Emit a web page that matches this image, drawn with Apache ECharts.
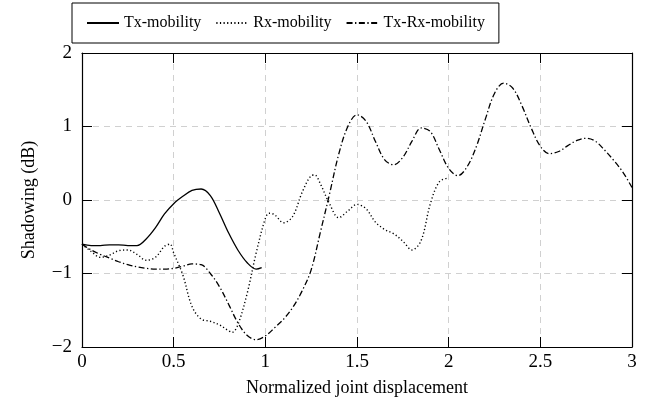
<!DOCTYPE html>
<html><head><meta charset="utf-8">
<script src="https://cdn.jsdelivr.net/npm/echarts@6/dist/echarts.min.js"></script>
<style>html,body{margin:0;padding:0;background:#fff}#c{width:659px;height:403px}</style>
</head><body><div id="c"></div>
<script>
var seriesNames = ['Tx-mobility', 'Rx-mobility', 'Tx-Rx-mobility'];
var xTicks = ['0', '0.5', '1', '1.5', '2', '2.5', '3'];
var yTicks = ['\u22122', '\u22121', '0', '1', '2'];

var txX = [0,0.05,0.1,0.15,0.2,0.25,0.3,0.35,0.4,0.45,0.5,0.55,0.6,0.65,0.7,0.75,0.8,0.85,0.9,0.95,0.98];
var txY = [-0.60,-0.62,-0.62,-0.61,-0.61,-0.62,-0.62,-0.53,-0.38,-0.19,-0.05,0.05,0.13,0.15,0.06,-0.18,-0.45,-0.68,-0.85,-0.94,-0.92];

var rxX = [0,0.05,0.1,0.15,0.2,0.25,0.3,0.35,0.4,0.45,0.48,0.5,0.55,0.6,0.65,0.7,0.75,0.8,0.82,0.85,0.9,0.95,1.0,1.02,1.05,1.1,1.15,1.2,1.25,1.27,1.3,1.35,1.4,1.45,1.5,1.55,1.6,1.65,1.7,1.75,1.8,1.85,1.9,1.95,2.0];
var rxY = [-0.60,-0.70,-0.78,-0.75,-0.69,-0.68,-0.74,-0.82,-0.78,-0.63,-0.60,-0.72,-1.02,-1.45,-1.62,-1.65,-1.70,-1.78,-1.80,-1.70,-1.28,-0.72,-0.25,-0.18,-0.20,-0.31,-0.22,0.10,0.33,0.34,0.22,-0.05,-0.24,-0.15,-0.06,-0.12,-0.30,-0.40,-0.46,-0.56,-0.68,-0.55,-0.05,0.25,0.30];

var trxX = [0,0.05,0.1,0.15,0.2,0.25,0.3,0.35,0.4,0.45,0.5,0.55,0.6,0.65,0.7,0.75,0.8,0.85,0.9,0.95,1.0,1.05,1.1,1.15,1.2,1.25,1.3,1.35,1.4,1.45,1.5,1.55,1.6,1.65,1.7,1.75,1.8,1.85,1.9,1.95,2.0,2.05,2.1,2.15,2.2,2.25,2.3,2.35,2.4,2.45,2.5,2.55,2.6,2.65,2.7,2.75,2.8,2.85,2.9,2.95,3.0];
var trxY = [-0.60,-0.68,-0.74,-0.79,-0.84,-0.88,-0.91,-0.93,-0.94,-0.94,-0.93,-0.90,-0.87,-0.88,-1.00,-1.18,-1.42,-1.67,-1.84,-1.90,-1.85,-1.74,-1.62,-1.46,-1.24,-0.95,-0.44,0.08,0.62,1.00,1.16,1.07,0.80,0.55,0.48,0.58,0.80,0.98,0.93,0.68,0.43,0.33,0.45,0.72,1.10,1.45,1.59,1.52,1.28,0.98,0.73,0.63,0.66,0.74,0.81,0.84,0.80,0.68,0.54,0.38,0.17];

function pairs(xs, ys){ return xs.map(function(x,i){ return [x, ys[i]]; }); }

var font = 'Liberation Serif';
var chart = echarts.init(document.getElementById('c'), null, {renderer:'canvas'});
var lineStyles = [
  {color:'#000', width:1.3, type:'solid'},
  {color:'#000', width:1.4, type:[1.2,2.4]},
  {color:'#000', width:1.3, type:[6,2.5,1.3,2.5]}
];
var data = [pairs(txX, txY), pairs(rxX, rxY), pairs(trxX, trxY)];
var gridLine = {show:true, lineStyle:{color:'#d0d0d0', type:[6,5], width:1}};

chart.setOption({
  animation:false,
  backgroundColor:'#fff',
  legend:{
    left:72, top:3,
    padding:[12,14,12,14],
    borderColor:'#000', borderWidth:1,
    itemWidth:32, itemHeight:14, itemGap:14,
    itemStyle:{opacity:0},
    textStyle:{fontFamily:font, fontSize:16, color:'#000'},
    data:seriesNames
  },
  grid:{left:82, right:27, top:53, bottom:56},
  xAxis:[{
    type:'value', min:0, max:3, interval:0.5,
    name:'Normalized joint displacement', nameLocation:'middle', nameGap:32,
    nameTextStyle:{fontFamily:font, fontSize:18, color:'#000'},
    axisLine:{onZero:false, lineStyle:{color:'#000', width:1.2}},
    axisTick:{inside:true, length:10, lineStyle:{color:'#000'}},
    axisLabel:{fontFamily:font, fontSize:19, color:'#000', margin:6,
      formatter:function(v){ return xTicks[Math.round(v/0.5)]; }},
    splitLine:gridLine
  },{
    type:'value', min:0, max:3, interval:0.5, position:'top',
    axisLine:{show:true, onZero:false, lineStyle:{color:'#000', width:1.2}},
    axisTick:{inside:true, length:10, lineStyle:{color:'#000'}},
    axisLabel:{show:false}, splitLine:{show:false}
  }],
  yAxis:[{
    type:'value', min:-2, max:2, interval:1, position:'left',
    name:'Shadowing (dB)', nameLocation:'middle', nameGap:44, nameRotate:90,
    nameTextStyle:{fontFamily:font, fontSize:18, color:'#000'},
    axisLine:{show:true, onZero:false, lineStyle:{color:'#000', width:1.2}},
    axisTick:{show:true, inside:true, length:10, lineStyle:{color:'#000'}},
    axisLabel:{fontFamily:font, fontSize:19, color:'#000', margin:10,
      formatter:function(v){ return yTicks[Math.round(v+2)]; }},
    splitLine:gridLine
  },{
    type:'value', min:-2, max:2, interval:1, position:'right',
    axisLine:{show:true, onZero:false, lineStyle:{color:'#000', width:1.2}},
    axisTick:{show:true, inside:true, length:10, lineStyle:{color:'#000'}},
    axisLabel:{show:false}, splitLine:{show:false}
  }],
  series:seriesNames.map(function(n,i){
    return {name:n, type:'line', data:data[i], smooth:0.35, showSymbol:false, symbol:'none',
      lineStyle:lineStyles[i], itemStyle:{color:'#000'}, z:3};
  })
});
</script></body></html>
